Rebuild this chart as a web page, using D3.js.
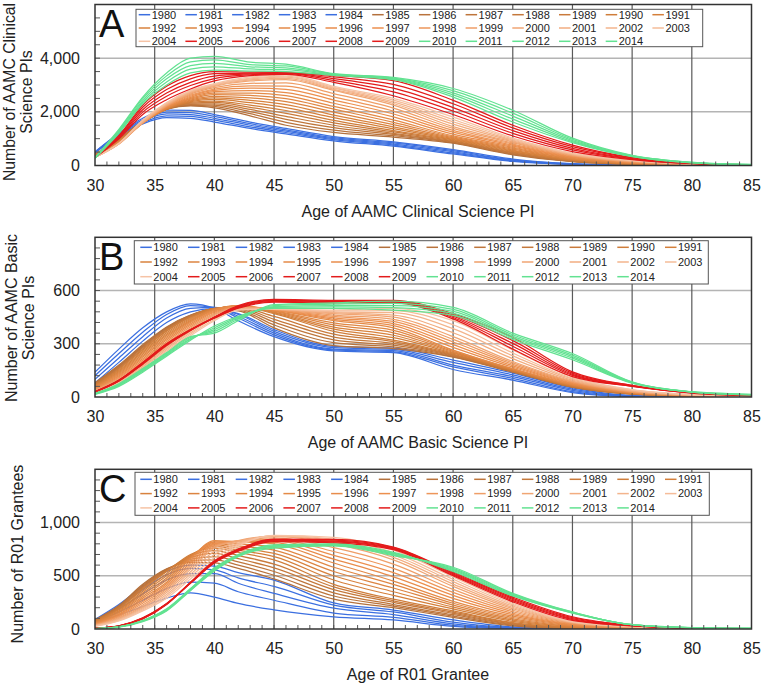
<!DOCTYPE html>
<html><head><meta charset="utf-8">
<script src="https://cdn.jsdelivr.net/npm/d3@7"></script>
<style>body{margin:0;background:#fff;} svg{display:block;font-family:"Liberation Sans",Arial,Helvetica,sans-serif;}</style>
</head><body><svg id="c" width="762" height="684"></svg>
<script>
const years = [1980,1981,1982,1983,1984,1985,1986,1987,1988,1989,1990,1991,1992,1993,1994,1995,1996,1997,1998,1999,2000,2001,2002,2003,2004,2005,2006,2007,2008,2009,2010,2011,2012,2013,2014];
const xTicks = [30,35,40,45,50,55,60,65,70,75,80,85];
const yTicksA = [0,2000,4000];
const yTicksB = [0,300,600];
const yTicksC = [0,500,1000];

// Panel A: AAMC clinical science PIs, ages sampled
const agesA = [30,32,34,36,38,40,43,46,50,55,60,65,70,75,80,85];
const clinicalPIs = [
[470,1100,1550,1780,1760,1620,1380,1180,920,720,430,150,40,12,4,0],
[480,1125,1600,1850,1830,1690,1440,1230,960,760,470,170,46,14,4,0],
[490,1150,1650,1920,1900,1760,1500,1280,1000,800,510,190,52,15,5,0],
[500,1175,1700,1990,1970,1830,1560,1330,1040,840,550,210,60,17,5,0],
[510,1200,1760,2060,2050,1900,1620,1380,1080,880,590,240,70,20,5,0],
[420,1000,1650,2100,2220,2150,1850,1500,1230,1060,830,400,140,40,10,0],
[412,985,1640,2100,2245,2200,1930,1610,1320,1110,850,420,150,44,11,1],
[404,970,1630,2100,2270,2250,2010,1720,1410,1160,870,445,162,48,12,2],
[396,955,1620,2100,2300,2300,2090,1830,1500,1200,895,470,175,52,13,3],
[388,940,1610,2100,2325,2350,2170,1940,1590,1250,920,495,188,56,14,4],
[380,925,1600,2100,2350,2400,2250,2050,1680,1300,950,520,200,60,15,5],
[372,910,1595,2110,2380,2460,2340,2160,1780,1370,975,545,215,68,17,5],
[364,895,1590,2120,2410,2520,2430,2270,1880,1440,1000,575,230,76,19,6],
[356,880,1585,2130,2440,2580,2520,2380,1990,1520,1030,610,248,84,22,6],
[348,865,1580,2140,2470,2640,2610,2490,2100,1610,1065,645,268,92,26,7],
[340,850,1580,2150,2500,2700,2700,2600,2200,1700,1100,680,290,100,30,8],
[334,840,1583,2170,2540,2750,2790,2720,2320,1810,1170,720,310,110,34,9],
[328,830,1587,2190,2580,2800,2880,2840,2440,1920,1240,760,330,120,38,10],
[322,820,1590,2210,2620,2850,2970,2960,2560,2030,1310,800,350,130,42,11],
[316,810,1595,2230,2660,2900,3060,3080,2680,2140,1380,840,370,140,46,11],
[310,800,1600,2250,2700,2950,3150,3200,2800,2250,1450,880,390,150,50,12],
[308,808,1625,2275,2725,2975,3190,3245,2840,2310,1540,915,407,160,54,14],
[305,815,1650,2300,2750,3000,3225,3290,2880,2370,1630,950,425,170,58,16],
[303,822,1675,2325,2775,3025,3260,3335,2915,2435,1715,985,442,180,62,18],
[300,830,1700,2350,2800,3050,3300,3380,2950,2500,1800,1020,460,190,65,20],
[300,1000,1900,2450,2850,3150,3350,3400,3100,2600,1900,1100,520,220,70,20],
[305,1030,1990,2580,2980,3240,3380,3420,3170,2740,2030,1200,580,240,75,22],
[310,1060,2080,2700,3100,3330,3410,3440,3240,2880,2160,1300,640,260,80,24],
[315,1090,2170,2830,3230,3420,3440,3460,3300,3020,2300,1400,700,280,85,26],
[320,1120,2250,2950,3350,3500,3480,3470,3360,3160,2430,1500,760,300,90,28],
[270,1200,2300,3000,3450,3550,3520,3500,3360,3200,2550,1620,850,330,100,30],
[275,1240,2360,3110,3590,3680,3600,3570,3380,3220,2630,1730,890,340,105,32],
[285,1270,2420,3230,3720,3810,3680,3640,3400,3240,2710,1840,930,355,110,34],
[290,1310,2490,3340,3860,3940,3760,3710,3410,3260,2790,1950,975,365,115,36],
[300,1350,2550,3450,4000,4070,3850,3780,3420,3280,2870,2060,1020,380,120,40]
];

// Panel B: AAMC basic science PIs
const agesB = [30,32,34,36,38,40,42,45,50,55,60,65,70,75,80,85];
const basicPIs = [
[140,270,390,480,525,500,430,340,260,250,155,95,25,3,1,0],
[120,245,365,465,515,505,445,350,265,255,170,105,30,4,1,0],
[100,220,340,445,500,505,455,360,270,262,180,115,37,5,1,0],
[80,195,315,420,480,500,465,370,278,268,195,125,44,6,2,0],
[60,170,285,390,455,495,470,380,285,275,208,135,51,8,2,0],
[80,180,295,395,462,495,485,390,290,272,225,140,55,16,5,1],
[77,175,289,390,460,496,490,406,306,282,228,142,56,17,5,1],
[74,170,283,385,457,497,495,422,322,292,231,144,57,18,5,1],
[71,165,277,380,455,498,500,438,338,302,235,146,59,18,6,1],
[68,160,271,375,452,499,505,454,354,312,238,148,60,19,6,1],
[65,155,265,370,450,500,510,470,370,320,242,150,62,20,6,1],
[62,149,257,362,444,498,511,474,382,334,247,152,64,21,6,1],
[59,143,249,354,438,496,512,478,394,348,252,154,66,22,7,2],
[56,137,241,346,432,494,513,482,406,362,257,156,68,23,7,2],
[53,131,233,338,426,492,514,486,418,376,262,158,70,23,8,2],
[50,125,225,330,420,490,515,490,430,390,265,160,72,24,8,2],
[47,119,216,321,412,484,513,491,438,402,280,168,76,26,9,2],
[44,113,207,312,404,478,511,492,446,414,295,176,79,27,9,2],
[41,107,198,303,396,472,509,493,454,426,310,184,83,29,10,3],
[38,101,189,294,388,466,507,494,462,438,325,192,86,30,10,3],
[35,95,180,285,380,460,505,495,470,450,340,200,90,32,11,3],
[32,90,172,276,371,452,501,495,475,462,362,216,95,35,12,3],
[30,85,165,268,362,445,497,495,480,475,385,232,101,37,12,4],
[27,80,157,259,354,437,494,495,485,487,407,248,106,40,13,4],
[25,75,150,250,345,430,490,495,490,500,430,265,112,42,14,4],
[30,95,195,300,380,445,500,535,530,530,440,270,115,60,22,8],
[30,94,193,298,379,446,504,539,534,534,448,286,122,61,23,8],
[29,92,190,295,378,448,508,543,538,538,455,302,128,62,24,9],
[29,91,188,293,376,449,511,546,541,541,462,318,135,64,24,9],
[28,90,185,290,375,450,515,550,545,545,470,335,142,65,25,10],
[15,60,140,230,320,400,455,500,500,490,460,325,210,78,28,12],
[16,64,145,235,325,390,450,505,508,503,471,334,219,80,28,13],
[18,68,150,240,330,380,445,510,515,515,483,342,228,82,29,13],
[19,71,155,245,335,370,438,515,523,528,494,351,236,83,29,14],
[20,75,160,250,340,360,430,520,530,540,505,360,245,85,30,15]
];

// Panel C: R01 grantees
const agesC = [30,32,34,36,38,40,42,45,50,55,60,65,70,75,80,85];
const r01Grantees = [
[60,130,210,290,340,300,240,180,115,85,25,5,0,0,0,0],
[70,160,270,380,440,430,350,270,150,110,35,8,1,0,0,0],
[80,190,330,460,520,520,430,335,195,135,48,10,2,0,0,0],
[85,210,370,510,570,555,480,400,225,160,65,14,3,0,0,0],
[90,230,400,540,600,590,530,460,245,178,85,20,4,0,0,0],
[85,220,420,565,625,620,570,470,280,200,110,30,5,1,0,0],
[82,214,410,560,640,650,600,505,310,215,122,36,7,2,0,0],
[79,208,400,555,655,680,630,540,340,230,134,42,9,2,0,0],
[76,202,390,550,670,710,660,575,370,250,146,48,11,3,1,0],
[73,196,380,545,685,735,690,610,395,265,158,54,13,3,1,0],
[70,190,370,540,700,760,720,650,420,280,170,60,15,4,1,0],
[66,180,354,520,692,775,740,680,460,315,188,72,19,5,1,0],
[62,170,338,500,684,790,760,710,500,350,206,84,23,6,2,0],
[58,160,322,480,676,805,780,740,540,385,224,96,27,8,2,0],
[54,150,306,460,668,818,800,770,580,420,242,108,31,9,2,0],
[50,140,290,440,660,830,820,800,620,450,260,120,35,10,3,0],
[47,132,274,424,640,816,822,814,656,490,288,134,40,12,3,0],
[44,124,258,408,620,802,824,828,692,530,316,148,45,13,4,0],
[41,116,242,392,600,788,826,842,728,570,344,162,50,15,4,1],
[38,108,226,376,580,774,828,856,764,610,372,176,55,16,5,1],
[35,100,210,360,560,760,830,870,800,650,400,190,60,18,5,1],
[32,94,200,342,538,730,818,872,815,672,422,202,62,20,6,1],
[30,88,190,325,515,700,805,875,830,695,445,215,65,22,7,2],
[27,81,180,308,492,670,792,877,845,718,467,228,67,23,7,2],
[25,75,170,290,470,640,780,880,860,740,490,240,70,25,8,2],
[8,30,105,240,430,620,730,820,810,745,500,255,80,30,8,3],
[7,29,103,238,432,625,735,827,818,752,509,266,89,31,9,3],
[6,28,100,235,435,630,740,834,826,758,518,277,97,32,9,3],
[6,27,98,232,437,635,745,840,834,764,526,288,106,34,10,3],
[5,26,95,230,440,640,750,845,842,770,535,300,115,35,10,3],
[3,20,80,190,380,575,700,790,800,720,540,310,150,40,10,5],
[3,20,78,185,375,568,695,783,795,712,550,316,152,40,11,5],
[3,19,75,180,370,560,690,775,790,705,560,322,155,40,11,5],
[3,19,73,175,365,553,685,768,785,697,570,328,158,40,12,5],
[3,18,70,170,360,545,680,760,780,690,580,335,160,40,12,5]
];

const xTitles = ["Age of AAMC Clinical Science PI","Age of AAMC Basic Science PI","Age of R01 Grantee"];
const yTitles = [["Number of AAMC Clinical","Science PIs"],["Number of AAMC Basic","Science PIs"],["Number of R01 Grantees"]];
const letters = ["A","B","C"];

const orangeScale = d3.scaleLinear().domain([1985,1991,1997,2004])
  .range(["#b3703c","#d47f3a","#ec8f4e","#f6c3a5"]).interpolate(d3.interpolateRgb);
function colorFor(y){
  if (y<=1984) return "#3b6fe0";
  if (y<=2004) return orangeScale(y);
  if (y<=2009) return "#e31b1b";
  return "#62e291";
}

const svg = d3.select("#c");
const X0 = 95, X1 = 751.5;

const layout = [
  {ages:agesA, data:clinicalPIs, top:4.5, bottom:165.5, yMax:6000, yTicks:yTicksA, minor:500, ytx:[15,32], yty:92, yfs:15.8,
   leg:{x:136,y:9.3,w:566.7,h:37.4,r0:5.4,rs:13.3,t0:15.7,cs:46.7}},
  {ages:agesB, data:basicPIs, top:237.3, bottom:397, yMax:900, yTicks:yTicksB, minor:60, ytx:[16.5,34], yty:318, yfs:16,
   leg:{x:134.3,y:240.7,w:574,h:43.3,r0:6.6,rs:14.7,t0:19,cs:47.7}},
  {ages:agesC, data:r01Grantees, top:469.3, bottom:629, yMax:1500, yTicks:yTicksC, minor:100, ytx:[23], yty:554, yfs:16,
   leg:{x:135,y:472.3,w:574.3,h:43,r0:7,rs:14.3,t0:18.3,cs:47.7}}
];

layout.forEach((p, pi) => {
  const g = svg.append("g");
  const x = d3.scaleLinear().domain([30,85]).range([X0,X1]);
  const y = d3.scaleLinear().domain([0,p.yMax]).range([p.bottom,p.top]);

  g.selectAll(".hg").data(p.yTicks.filter(v=>v>0)).join("line")
    .attr("x1",X0).attr("x2",X1).attr("y1",d=>y(d)).attr("y2",d=>y(d))
    .attr("stroke","#b4b4b4").attr("stroke-width",1.5);
  g.selectAll(".vg").data(xTicks.filter(v=>v>30&&v<85)).join("line")
    .attr("x1",d=>x(d)).attr("x2",d=>x(d)).attr("y1",p.top).attr("y2",p.bottom)
    .attr("stroke","#5a5a5a").attr("stroke-width",1.2);

  const cid = "clip"+pi;
  svg.append("clipPath").attr("id",cid).append("rect")
    .attr("x",X0).attr("y",p.top).attr("width",X1-X0).attr("height",p.bottom-p.top);

  const line = d3.line().x((d,i)=>x(p.ages[i])).y(d=>y(d)).curve(d3.curveMonotoneX);
  g.append("g").attr("clip-path",`url(#${cid})`).selectAll("path").data(p.data).join("path")
    .attr("d",d=>line(d)).attr("fill","none")
    .attr("stroke",(d,i)=>colorFor(years[i])).attr("stroke-width",1.25);

  g.selectAll(".mx").data(d3.range(31,85)).join("line")
    .attr("x1",d=>x(d)).attr("x2",d=>x(d)).attr("y1",p.bottom).attr("y2",p.bottom-4)
    .attr("stroke","#555").attr("stroke-width",1);
  g.selectAll(".my").data(d3.range(p.minor,p.yMax,p.minor)).join("line")
    .attr("x1",X0).attr("x2",X0+5).attr("y1",d=>y(d)).attr("y2",d=>y(d))
    .attr("stroke","#555").attr("stroke-width",1);

  g.append("rect").attr("x",X0).attr("y",p.top).attr("width",X1-X0).attr("height",p.bottom-p.top)
    .attr("fill","none").attr("stroke","#333").attr("stroke-width",1.5);

  const xa = g.append("g").attr("transform",`translate(0,${p.bottom})`)
    .call(d3.axisBottom(x).tickValues(xTicks).tickSize(0).tickPadding(14));
  xa.select(".domain").remove();
  xa.selectAll("text").attr("font-size",16).attr("fill","#222").attr("font-family","Liberation Sans, Arial, sans-serif");

  const ya = g.append("g").attr("transform",`translate(${X0},0)`)
    .call(d3.axisLeft(y).tickValues(p.yTicks).tickSize(0).tickPadding(15).tickFormat(d3.format(",")));
  ya.select(".domain").remove();
  ya.selectAll("text").attr("font-size",16).attr("fill","#222").attr("font-family","Liberation Sans, Arial, sans-serif");

  g.append("text").attr("x",418).attr("y",p.bottom+51).attr("text-anchor","middle")
    .attr("font-size",16).attr("fill","#222").text(xTitles[pi]);
  yTitles[pi].forEach((t,k)=>{
    g.append("text").attr("transform",`translate(${p.ytx[k]},${p.yty}) rotate(-90)`)
      .attr("text-anchor","middle").attr("font-size",p.yfs).attr("fill","#222").text(t);
  });

  g.append("text").attr("x",99).attr("y",p.top+32.5).attr("font-size",38).attr("fill","#111").text(letters[pi]);

  const L = p.leg;
  g.append("rect").attr("x",L.x).attr("y",L.y).attr("width",L.w).attr("height",L.h)
    .attr("fill","#fff").attr("stroke","#555").attr("stroke-width",1);
  const items = g.selectAll(".li").data(years).join("g")
    .attr("transform",(d,i)=>`translate(${L.x+L.t0+(i%12)*L.cs},${L.y+L.r0+Math.floor(i/12)*L.rs})`);
  items.append("line").attr("x1",-13).attr("x2",-1.5).attr("y1",0).attr("y2",0)
    .attr("stroke",d=>colorFor(d)).attr("stroke-width",1.5);
  items.append("text").attr("x",0).attr("y",0).attr("dy","0.35em").attr("font-size",11).attr("fill","#222").text(d=>d);
});
</script>
</body></html>
